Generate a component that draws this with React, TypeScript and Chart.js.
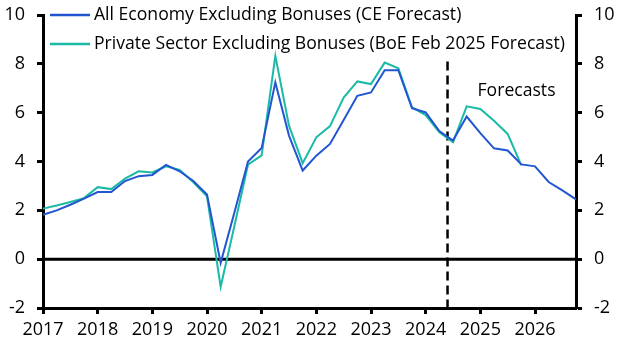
import React, { useEffect, useRef } from "react";
import { Chart, registerables } from "chart.js";

Chart.register(...registerables);

// ---- Data ----
const quarters: string[] = [
  "2017Q1", "2017Q2", "2017Q3", "2017Q4",
  "2018Q1", "2018Q2", "2018Q3", "2018Q4",
  "2019Q1", "2019Q2", "2019Q3", "2019Q4",
  "2020Q1", "2020Q2", "2020Q3", "2020Q4",
  "2021Q1", "2021Q2", "2021Q3", "2021Q4",
  "2022Q1", "2022Q2", "2022Q3", "2022Q4",
  "2023Q1", "2023Q2", "2023Q3", "2023Q4",
  "2024Q1", "2024Q2", "2024Q3", "2024Q4",
  "2025Q1", "2025Q2", "2025Q3", "2025Q4",
  "2026Q1", "2026Q2", "2026Q3", "2026Q4",
];

const allEconomy: (number | null)[] = [
  1.82, 2.0, 2.23, 2.48,
  2.75, 2.75, 3.2, 3.4,
  3.45, 3.86, 3.6, 3.2,
  2.65, -0.15, 1.9, 4.0,
  4.55, 7.24, 5.06, 3.63,
  4.24, 4.72, 5.7, 6.69,
  6.83, 7.74, 7.74, 6.18,
  6.01, 5.25, 4.86, 5.84,
  5.16, 4.54, 4.45, 3.88,
  3.8, 3.16, 2.82, 2.45,
];

const privateSector: (number | null)[] = [
  2.07, 2.2, 2.34, 2.5,
  2.95, 2.87, 3.3, 3.6,
  3.55, 3.8, 3.66, 3.15,
  2.57, -1.13, 1.35, 3.87,
  4.25, 8.33, 5.47, 3.93,
  4.99, 5.45, 6.62, 7.28,
  7.17, 8.05, 7.82, 6.22,
  5.9, 5.2, 4.79, 6.26,
  6.15, 5.67, 5.13, 3.84,
  null, null, null, null,
];

const seriesLabels = [
  "All Economy Excluding Bonuses (CE Forecast)",
  "Private Sector Excluding Bonuses (BoE Feb 2025 Forecast)",
];
const seriesColors = ["#2256D1", "#1BBAA7"];

const yMin = -2;
const yMax = 10;
const yStep = 2;

// forecast marker (category index between 2024Q2 and 2024Q3)
const forecastIndex = 29.6;
const forecastLineTop = 8.1;
const forecastLabel = "Forecasts";
const forecastLabelValue = 6.9;

const FONT = "'Open Sans', 'Noto Sans', sans-serif";
const FONT_SIZE = 18;
const LEGEND_FONT_SIZE = 17.6;

const overlayPlugin = {
  id: "overlay",
  beforeDatasetsDraw(chart: any) {
    const { ctx, chartArea, scales } = chart;
    const x = scales.x;
    const y = scales.y;
    ctx.save();
    // zero line
    const y0 = y.getPixelForValue(0);
    ctx.strokeStyle = "#000";
    ctx.lineWidth = 3;
    ctx.beginPath();
    ctx.moveTo(chartArea.left, y0);
    ctx.lineTo(chartArea.right, y0);
    ctx.stroke();
    // forecast dashed line
    const fx = x.getPixelForValue(forecastIndex);
    ctx.lineWidth = 2.5;
    ctx.setLineDash([9, 5]);
    ctx.beginPath();
    ctx.moveTo(fx, y.getPixelForValue(forecastLineTop));
    ctx.lineTo(fx, chartArea.bottom);
    ctx.stroke();
    ctx.restore();
  },
  afterDraw(chart: any) {
    const { ctx, chartArea, scales } = chart;
    ctx.save();
    ctx.font = `${LEGEND_FONT_SIZE}px ${FONT}`;
    ctx.textBaseline = "middle";
    ctx.fillStyle = "#000";
    // legend
    chart.data.datasets.forEach((ds: any, i: number) => {
      const cy = chartArea.top + i * 29;
      ctx.strokeStyle = ds.borderColor;
      ctx.lineWidth = 2.5;
      ctx.beginPath();
      ctx.moveTo(chartArea.left + 7, cy);
      ctx.lineTo(chartArea.left + 47, cy);
      ctx.stroke();
      ctx.fillText(ds.label, chartArea.left + 51, cy);
    });
    // forecasts label
    const fx = scales.x.getPixelForValue(forecastIndex);
    ctx.textAlign = "left";
    ctx.fillText(forecastLabel, fx + 30, scales.y.getPixelForValue(forecastLabelValue));
    ctx.restore();
  },
};

export default function App() {
  const canvasRef = useRef<HTMLCanvasElement | null>(null);

  useEffect(() => {
    if (!canvasRef.current) return;
    const tickFont = { family: FONT, size: FONT_SIZE };
    const yFit = (w: number) => (s: any) => {
      s.width = w;
      s.paddingTop = 0;
      s.paddingBottom = 0;
    };
    const chart = new Chart(canvasRef.current, {
      type: "line",
      data: {
        labels: quarters,
        datasets: [
          {
            label: seriesLabels[0],
            data: allEconomy,
            borderColor: seriesColors[0],
            backgroundColor: seriesColors[0],
            borderWidth: 2,
            pointRadius: 0,
            tension: 0,
            spanGaps: false,
          },
          {
            label: seriesLabels[1],
            data: privateSector,
            borderColor: seriesColors[1],
            backgroundColor: seriesColors[1],
            borderWidth: 2,
            pointRadius: 0,
            tension: 0,
            spanGaps: false,
          },
        ],
      },
      options: {
        responsive: false,
        animation: false,
        events: [],
        layout: { padding: { top: 15, left: 0, right: 0, bottom: 0 } },
        plugins: {
          legend: { display: false },
          tooltip: { enabled: false },
        },
        scales: {
          x: {
            type: "category",
            offset: false,
            grid: {
              drawOnChartArea: false,
              drawTicks: true,
              tickLength: 6,
              tickWidth: 3,
              tickColor: (c: any) =>
                quarters[c.index] && quarters[c.index].endsWith("Q1") ? "#000" : "rgba(0,0,0,0)",
            },
            border: { display: true, color: "#000", width: 3 },
            ticks: {
              autoSkip: false,
              maxRotation: 0,
              minRotation: 0,
              color: "#000",
              font: tickFont,
              padding: 5,
              callback: (_v: any, i: number) =>
                quarters[i].endsWith("Q1") ? quarters[i].slice(0, 4) : "",
            },
            afterFit: (s: any) => {
              s.height = 44;
              s.paddingLeft = 0;
              s.paddingRight = 0;
            },
          },
          y: {
            type: "linear",
            position: "left",
            min: yMin,
            max: yMax,
            grid: {
              drawOnChartArea: false,
              drawTicks: true,
              tickLength: 6,
              tickWidth: 3,
              tickColor: "#000",
            },
            border: { display: true, color: "#000", width: 3 },
            ticks: { stepSize: yStep, color: "#000", font: tickFont, padding: 12 },
            afterFit: yFit(43),
          },
          y2: {
            type: "linear",
            position: "right",
            display: true,
            min: yMin,
            max: yMax,
            grid: {
              drawOnChartArea: false,
              drawTicks: true,
              tickLength: 6,
              tickWidth: 3,
              tickColor: "#000",
            },
            border: { display: true, color: "#000", width: 3 },
            ticks: { stepSize: yStep, color: "#000", font: tickFont, padding: 12 },
            afterFit: yFit(52),
          },
        },
      },
      plugins: [overlayPlugin],
    });
    return () => chart.destroy();
  }, []);

  return (
    <div style={{ position: "fixed", left: 0, top: 0, width: 628, height: 352, background: "#fff" }}>
      <canvas ref={canvasRef} width={628} height={352} />
    </div>
  );
}
